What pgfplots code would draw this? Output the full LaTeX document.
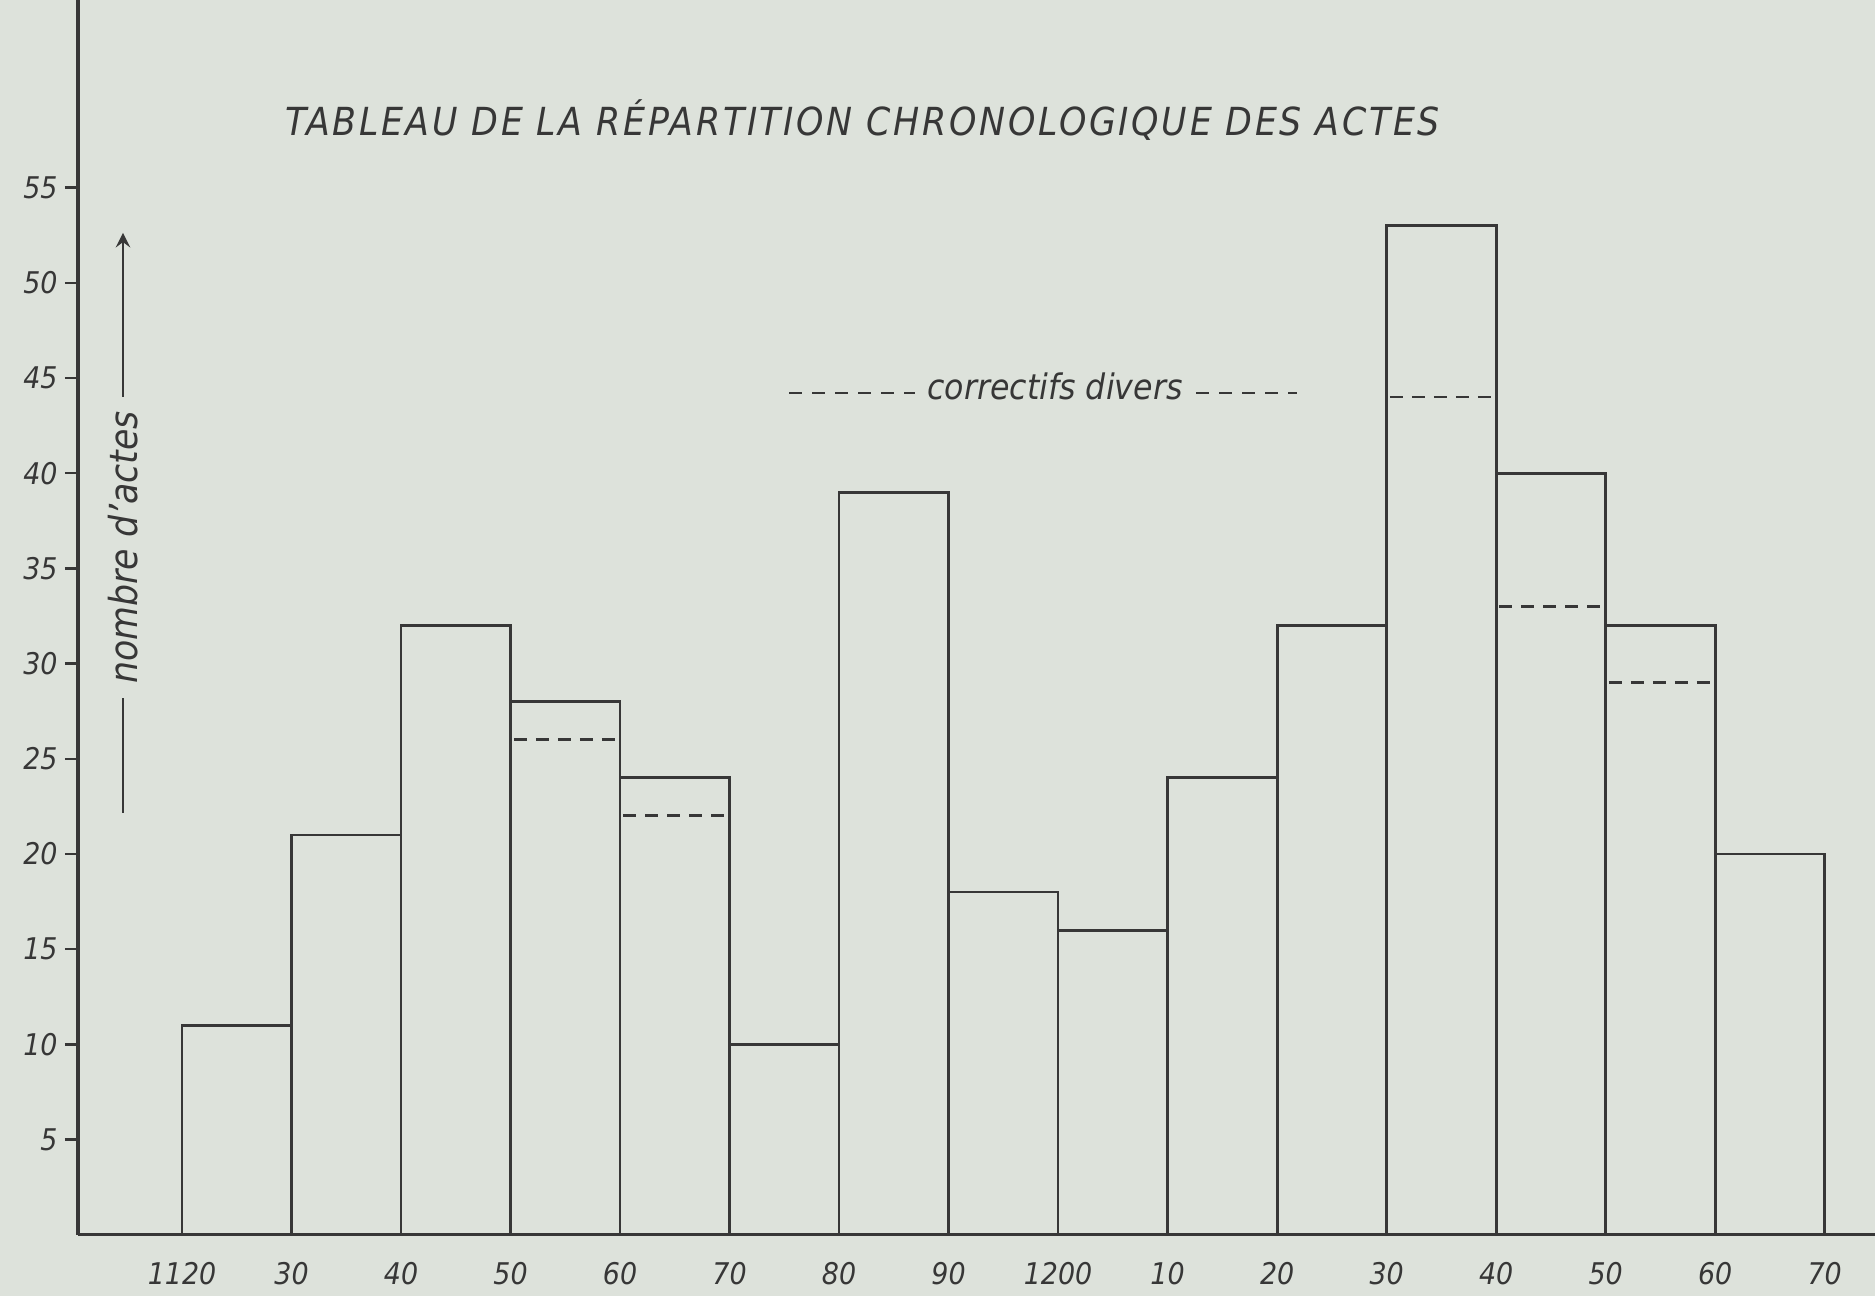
\documentclass[border=0pt]{standalone}
\usepackage{pgfplots}
\pgfplotsset{compat=1.18}
\usepackage{fontspec}
\setmainfont{DejaVu Sans Condensed}
\definecolor{paper}{RGB}{221,226,219}
\definecolor{ink}{RGB}{55,55,55}
\begin{document}
\begin{tikzpicture}
\fill[paper] (0,0) rectangle (18.75,12.96);
\useasboundingbox (0,0) rectangle (18.75,12.96);
\begin{axis}[
 at={(0.78cm,0.612cm)}, anchor=south west,
 scale only axis, width=17.97cm, height=12.348cm,
 xmin=1110.5, xmax=1274.6, ymin=0, ymax=64.85,
 axis lines=left, axis line style={-, ink, line width=0.9pt},
 xtick={1120,1130,...,1270},
 xticklabels={1120,30,40,50,60,70,80,90,1200,10,20,30,40,50,60,70},
 ytick={5,10,...,55},
 x tick style={draw=none},
 y tick style={ink, line width=0.7pt},
 tick align=outside, major tick length=0.13cm,
 tick label style={font=\fontsize{8.5}{10}\selectfont\itshape, text=ink},
 /pgf/number format/assume math mode=true,
 xticklabel style={yshift=-0.1cm, inner sep=1pt},
 yticklabel style={xshift=0.05cm},
 clip=false,
]
\addplot[ybar interval, draw=ink, line width=0.8pt, fill=none] coordinates {
(1120,11) (1130,21) (1140,32) (1150,28) (1160,24) (1170,10) (1180,39) (1190,18)
(1200,16) (1210,24) (1220,32) (1230,53) (1240,40) (1250,32) (1260,20) (1270,20)};
\addplot[ink, line width=0.8pt, dash pattern=on 0.13cm off 0.09cm, unbounded coords=jump] coordinates {
(1150.3,26) (1159.7,26) (1155,nan)
(1160.3,22) (1169.7,22) (1165,nan)
(1230.3,44) (1239.7,44) (1235,nan)
(1240.3,33) (1249.7,33) (1245,nan)
(1250.3,29) (1259.7,29)};
\end{axis}
\node[font=\fontsize{11}{12}\selectfont\itshape\addfontfeature{LetterSpace=7}, text=ink] at (8.63,11.76) {TABLEAU DE LA RÉPARTITION CHRONOLOGIQUE DES ACTES};
\node[font=\fontsize{10}{12}\selectfont\itshape, text=ink] at (10.55,9.1) {correctifs divers};
\draw[ink, line width=0.8pt, dash pattern=on 0.13cm off 0.1cm] (7.89,9.03) -- (9.15,9.03) (11.96,9.03) -- (12.97,9.03);
\draw[ink, line width=0.8pt, -stealth] (1.23,4.83) -- (1.23,10.63);
\node[font=\fontsize{11}{12}\selectfont\itshape, text=ink, fill=paper, rotate=90, inner xsep=4pt] at (1.23,7.485) {nombre d'actes};
\end{tikzpicture}
\end{document}
